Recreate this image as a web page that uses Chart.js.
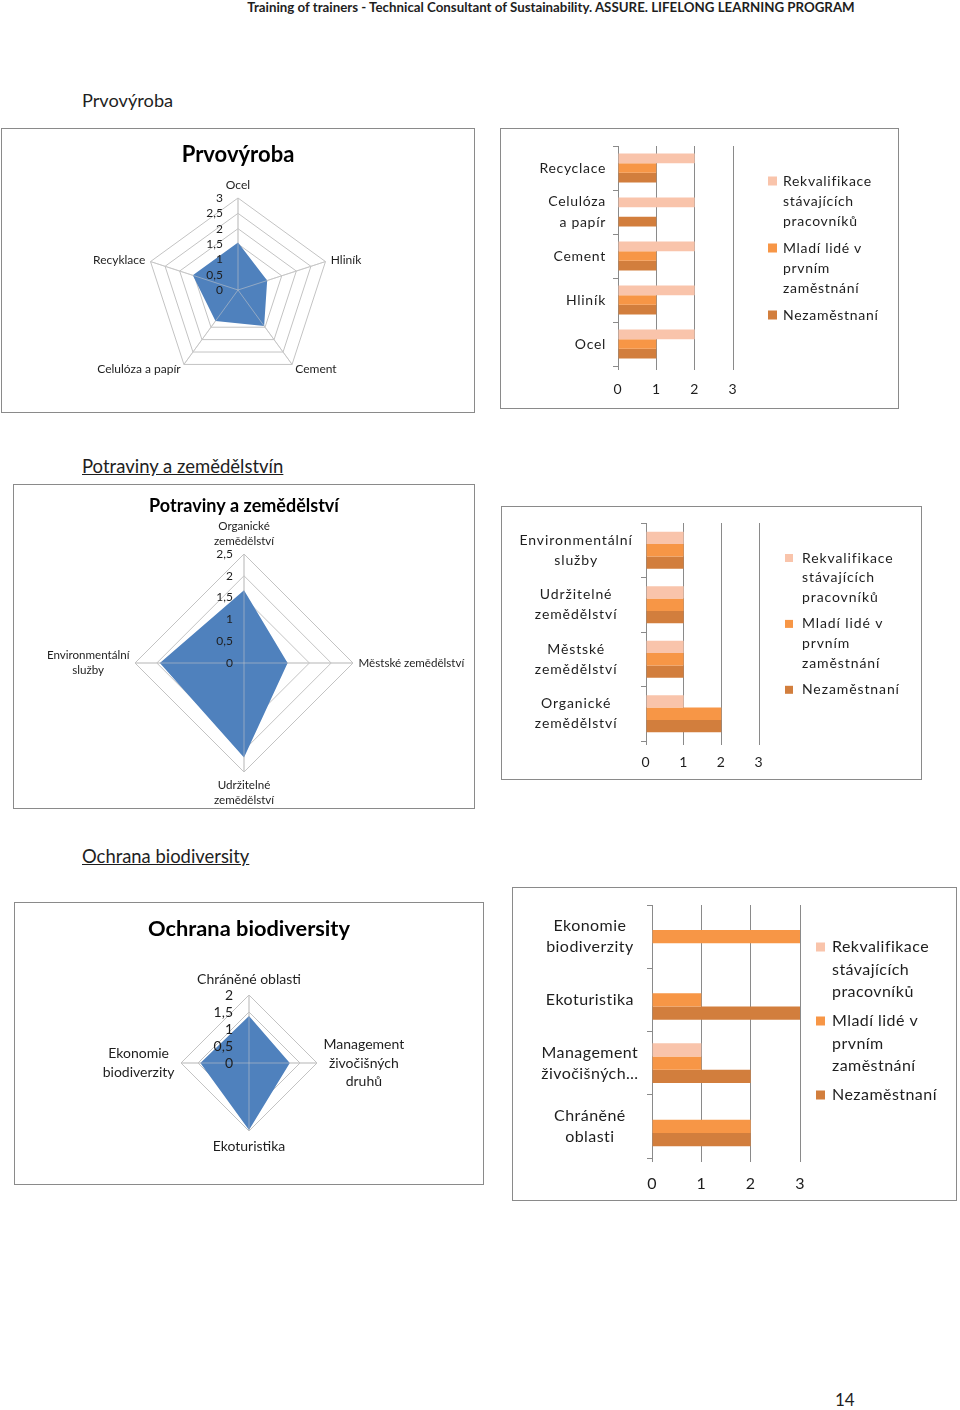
<!DOCTYPE html>
<html><head><meta charset="utf-8">
<script src="https://cdn.jsdelivr.net/npm/chart.js@4.4.1/dist/chart.umd.min.js"></script>
<style>
html,body{margin:0;padding:0;background:#fff;}
body{width:960px;height:1410px;position:relative;overflow:hidden;font-family:Lato,"Open Sans",sans-serif;color:#1e1e1e;}
.t{position:absolute;white-space:nowrap;}
.frame{position:absolute;border:1px solid #8a8a8a;box-sizing:border-box;pointer-events:none;}
canvas{position:absolute;}
</style></head><body>
<div class="t" style="left:0;width:1102px;text-align:center;top:0;line-height:15px;font-size:13.3px;font-weight:bold;">Training of trainers - Technical Consultant of Sustainability. ASSURE. LIFELONG LEARNING PROGRAM</div>
<div class="t" style="left:82px;top:89px;line-height:22px;font-size:18.2px;">Prvovýroba</div>
<div class="t" style="left:82px;top:455px;line-height:22px;font-size:18.5px;text-decoration:underline;">Potraviny a zemědělstvín</div>
<div class="t" style="left:82px;top:845px;line-height:22px;font-size:18.4px;text-decoration:underline;">Ochrana biodiversity</div>
<div class="t" style="left:835px;top:1389px;line-height:22px;font-size:17px;">14</div>

<canvas id="r1"></canvas><div class="frame" id="f_r1"></div>
<canvas id="b1"></canvas><div class="frame" id="f_b1"></div>
<canvas id="r2"></canvas><div class="frame" id="f_r2"></div>
<canvas id="b2"></canvas><div class="frame" id="f_b2"></div>
<canvas id="r3"></canvas><div class="frame" id="f_r3"></div>
<canvas id="b3"></canvas><div class="frame" id="f_b3"></div>

<script>
// ---------------- DATA ----------------
const seriesNames = ['Rekvalifikace stávajících pracovníků', 'Mladí lidé v prvním zaměstnání', 'Nezaměstnaní'];

// Prvovýroba
const prvRadarCategories = ['Ocel', 'Hliník', 'Cement', 'Celulóza a papír', 'Recyklace'];
const prvRadarValues = [1.55, 1.0, 1.45, 1.25, 1.55];
const prvRadarTickLabels = ['0', '0,5', '1', '1,5', '2', '2,5', '3'];
const prvBarCategories = ['Recyclace', 'Celulóza\na papír', 'Cement', 'Hliník', 'Ocel'];
const prvRekvalifikace = [2, 2, 2, 2, 2];
const prvMladi = [1, 0, 1, 1, 1];
const prvNezamestnani = [1, 1, 1, 1, 1];

// Potraviny a zemědělství
const potRadarCategories = ['Organické\nzemědělství', 'Městské zemědělství', 'Udržitelné\nzemědělství', 'Environmentální\nslužby'];
const potRadarValues = [1.67, 1.0, 2.17, 1.93];
const potRadarTickLabels = ['0', '0,5', '1', '1,5', '2', '2,5'];
const potBarCategories = ['Environmentální\nslužby', 'Udržitelné\nzemědělství', 'Městské\nzemědělství', 'Organické\nzemědělství'];
const potRekvalifikace = [1, 1, 1, 1];
const potMladi = [1, 1, 1, 2];
const potNezamestnani = [1, 1, 1, 2];

// Ochrana biodiversity
const ochRadarCategories = ['Chráněné oblasti', 'Management\nživočišných\ndruhů', 'Ekoturistika', 'Ekonomie\nbiodiverzity'];
const ochRadarValues = [1.38, 1.2, 1.97, 1.43];
const ochRadarTickLabels = ['0', '0,5', '1', '1,5', '2'];
const ochBarCategories = ['Ekonomie\nbiodiverzity', 'Ekoturistika', 'Management\nživočišných…', 'Chráněné\noblasti'];
const ochRekvalifikace = [0, 0, 1, 0];
const ochMladi = [3, 1, 1, 2];
const ochNezamestnani = [0, 3, 2, 2];

const barTickLabels = ['0', '1', '2', '3'];

// ---------------- STYLE ----------------
const FONT = 'Lato, "Open Sans", sans-serif';
const TXT = '#1e1e1e';
const SERIES_COLORS = ['#F9C4AB', '#F79646', '#D27E3D'];
const RADAR_FILL = '#4F81BD';
const split = s => s.split('\n');
const num = s => parseFloat(s.replace(',', '.'));

function place(id, box) {
  const c = document.getElementById(id);
  c.width = box.w; c.height = box.h;
  c.style.left = box.x + 'px'; c.style.top = box.y + 'px';
  c.style.width = box.w + 'px'; c.style.height = box.h + 'px';
  const f = document.getElementById('f_' + id);
  f.style.left = box.x + 'px'; f.style.top = box.y + 'px';
  f.style.width = box.w + 'px'; f.style.height = box.h + 'px';
  return c;
}

// Radar labels plugin (point labels, tick labels, axis lines over the fill)
const radarLabels = {
  id: 'radarLabels',
  afterDatasetsDraw(chart, args, o) {
    const s = chart.scales.r, ctx = chart.ctx;
    ctx.save();
    const n = chart.data.labels.length;
    ctx.strokeStyle = 'rgba(200,200,200,0.55)'; ctx.lineWidth = 1;
    for (let i = 0; i < n; i++) {
      const p = s.getPointPosition(i, s.drawingArea);
      ctx.beginPath(); ctx.moveTo(s.xCenter, s.yCenter); ctx.lineTo(p.x, p.y); ctx.stroke();
    }
    ctx.fillStyle = TXT;
    ctx.font = o.tickSize + 'px ' + FONT;
    ctx.textAlign = 'right'; ctx.textBaseline = 'middle';
    s.ticks.forEach(t => {
      const y = s.yCenter - s.getDistanceFromCenterForValue(t.value);
      ctx.fillText(t.label, s.xCenter - o.tickOffset, y);
    });
    ctx.font = o.labelSize + 'px ' + FONT;
    const lh = o.labelSize * o.lineHeight;
    chart.data.labels.forEach((lab, i) => {
      const lines = Array.isArray(lab) ? lab : [lab];
      const p = s.getPointPosition(i, s.drawingArea + o.gap);
      const c = Math.cos(p.angle), sn = Math.sin(p.angle);
      const w = Math.max(...lines.map(l => ctx.measureText(l).width));
      let cx = p.x;
      if (Math.abs(c) >= 0.1) cx = c > 0 ? p.x + w / 2 : p.x - w / 2;
      const h = lines.length * lh;
      let top = p.y - h / 2;
      if (sn < -0.9) top = p.y - h; else if (sn > 0.9) top = p.y;
      ctx.textAlign = 'center'; ctx.textBaseline = 'middle';
      lines.forEach((l, k) => ctx.fillText(l, cx, top + lh * (k + 0.5)));
    });
    ctx.restore();
  }
};

function radar(id, box, cfg) {
  const c = place(id, box);
  const titleLH = cfg.titleSize * 1.2;
  const padTop = cfg.titleY - titleLH / 2;
  const areaTop = cfg.cy - cfg.R;
  const padBottom = areaTop - padTop - titleLH;
  const layoutBottom = box.h - areaTop - 2 * cfg.R;
  const tl = cfg.tickLabels;
  return new Chart(c, {
    type: 'radar',
    data: {
      labels: cfg.labels.map(split),
      datasets: [{ label: cfg.title, data: cfg.values, backgroundColor: RADAR_FILL, borderColor: RADAR_FILL, borderWidth: 0, fill: true, pointRadius: 0 }]
    },
    options: {
      responsive: false, animation: false, devicePixelRatio: 1,
      layout: { padding: { left: 0, right: 0, top: 0, bottom: layoutBottom } },
      plugins: {
        legend: { display: false }, tooltip: { enabled: false },
        title: { display: true, text: cfg.title, color: '#000', font: { family: FONT, size: cfg.titleSize, weight: 'bold', lineHeight: 1.2 }, padding: { top: padTop, bottom: padBottom } },
        radarLabels: { tickSize: cfg.tickSize, tickOffset: cfg.tickOffset, labelSize: cfg.labelSize, lineHeight: cfg.labelLH, gap: cfg.gap }
      },
      scales: {
        r: {
          min: num(tl[0]), max: num(tl[tl.length - 1]),
          ticks: { display: false, stepSize: num(tl[1]) - num(tl[0]), callback: (v, i) => tl[i] },
          pointLabels: { display: false },
          grid: { color: '#C3C3C3', lineWidth: 1 },
          angleLines: { color: '#C3C3C3', lineWidth: 1 }
        }
      },
      elements: { line: { tension: 0, borderWidth: 0 }, point: { radius: 0 } }
    },
    plugins: [radarLabels]
  });
}

// Letter spacing for all text of a chart (the reference bar charts use spaced text)
const spacing = {
  id: 'spacing',
  beforeDraw(chart, args, o) { chart.ctx.letterSpacing = o.px + 'px'; }
};

// Side legend plugin for bar charts
const sideLegend = {
  id: 'sideLegend',
  afterDraw(chart, args, o) {
    const ctx = chart.ctx;
    ctx.save();
    ctx.font = o.size + 'px ' + FONT;
    ctx.textAlign = 'left'; ctx.textBaseline = 'middle';
    let y = o.y;
    chart.data.datasets.forEach(ds => {
      const words = ds.label.split(' ');
      const lines = []; let cur = '';
      words.forEach(wd => {
        const test = cur ? cur + ' ' + wd : wd;
        if (cur && ctx.measureText(test).width > o.maxWidth) { lines.push(cur); cur = wd; } else cur = test;
      });
      if (cur) lines.push(cur);
      ctx.fillStyle = ds.backgroundColor;
      ctx.fillRect(o.x, y - o.box / 2, o.box, o.box);
      ctx.fillStyle = TXT;
      lines.forEach((l, k) => ctx.fillText(l, o.textX, y + k * o.lh));
      y += lines.length * o.lh + o.gap;
    });
    ctx.restore();
  }
};

function bar(id, box, cfg) {
  const c = place(id, box);
  const yW = cfg.plot.l - box.x;
  const padTop = cfg.plot.t - box.y;
  const padRight = box.x + box.w - cfg.plot.r;
  const padBottom = box.y + box.h - cfg.plot.b - cfg.xH;
  const series = cfg.series;
  return new Chart(c, {
    type: 'bar',
    data: {
      labels: cfg.categories.map(split),
      datasets: series.map((d, i) => ({
        label: seriesNames[i], data: d, backgroundColor: SERIES_COLORS[i], borderWidth: 0,
        barPercentage: 1, categoryPercentage: cfg.catPct
      }))
    },
    options: {
      indexAxis: 'y', responsive: false, animation: false, devicePixelRatio: 1,
      layout: { padding: { left: 0, top: padTop, right: padRight, bottom: padBottom } },
      plugins: {
        legend: { display: false }, tooltip: { enabled: false }, title: { display: false },
        sideLegend: cfg.legend,
        spacing: { px: cfg.letterSpacing }
      },
      scales: {
        x: {
          min: num(barTickLabels[0]), max: num(barTickLabels[barTickLabels.length - 1]),
          ticks: { stepSize: 1, callback: (v, i) => barTickLabels[i], color: TXT, font: { family: FONT, size: cfg.xFont }, padding: cfg.xPad, maxRotation: 0 },
          grid: { color: '#8a8a8a', lineWidth: 1, drawTicks: true, tickLength: 4, tickColor: '#8a8a8a' },
          border: { display: false },
          afterFit: s => { s.height = cfg.xH; s.paddingLeft = 0; s.paddingRight = 0; }
        },
        y: {
          ticks: { color: TXT, font: { family: FONT, size: cfg.yFont, lineHeight: cfg.yLH }, padding: cfg.yPad, crossAlign: cfg.crossAlign, autoSkip: false },
          grid: { display: true, drawOnChartArea: false, drawTicks: true, tickLength: 5, color: '#8a8a8a', tickColor: '#8a8a8a', offset: true },
          border: { display: true, color: '#8a8a8a', width: 1 },
          afterFit: s => { s.width = yW; s.paddingTop = 0; s.paddingBottom = 0; }
        }
      }
    },
    plugins: [spacing, sideLegend]
  });
}

// ---------------- CHARTS ----------------
radar('r1', { x: 1, y: 128, w: 474, h: 285 }, {
  title: 'Prvovýroba', titleSize: 22, titleY: 27, cy: 162, R: 92,
  labels: prvRadarCategories, values: prvRadarValues, tickLabels: prvRadarTickLabels,
  tickSize: 12, tickOffset: 15, labelSize: 12, labelLH: 1.25, gap: 5.5
});
bar('b1', { x: 500, y: 128, w: 399, h: 281 }, {
  plot: { l: 618, t: 146, r: 733, b: 366 }, xH: 30, xFont: 14, xPad: 11, catPct: 0.66,
  categories: prvBarCategories, series: [prvRekvalifikace, prvMladi, prvNezamestnani],
  yFont: 14, yLH: 1.55, yPad: 7, crossAlign: 'near', letterSpacing: 0.7,
  legend: { x: 268, box: 9, textX: 283, y: 53, lh: 20, gap: 7, size: 14, maxWidth: 95 }
});
radar('r2', { x: 13, y: 484, w: 462, h: 325 }, {
  title: 'Potraviny a zemědělství', titleSize: 18, titleY: 22, cy: 179, R: 109,
  labels: potRadarCategories, values: potRadarValues, tickLabels: potRadarTickLabels,
  tickSize: 12, tickOffset: 11, labelSize: 11.6, labelLH: 1.3, gap: 5.5
});
bar('b2', { x: 501, y: 506, w: 421, h: 274 }, {
  plot: { l: 646, t: 523, r: 759, b: 741 }, xH: 28, xFont: 14, xPad: 9, catPct: 0.68,
  categories: potBarCategories, series: [potRekvalifikace, potMladi, potNezamestnani],
  yFont: 14, yLH: 1.42, yPad: 15, crossAlign: 'center', letterSpacing: 0.9,
  legend: { x: 284, box: 8, textX: 301, y: 52, lh: 19.8, gap: 6.5, size: 14, maxWidth: 95 }
});
radar('r3', { x: 14, y: 902, w: 470, h: 283 }, {
  title: 'Ochrana biodiversity', titleSize: 21.8, titleY: 27, cy: 161, R: 68,
  labels: ochRadarCategories, values: ochRadarValues, tickLabels: ochRadarTickLabels,
  tickSize: 14, tickOffset: 16, labelSize: 14, labelLH: 1.32, gap: 6.5
});
bar('b3', { x: 512, y: 887, w: 445, h: 314 }, {
  plot: { l: 652, t: 905, r: 800, b: 1158 }, xH: 32, xFont: 16, xPad: 12, catPct: 0.63,
  categories: ochBarCategories, series: [ochRekvalifikace, ochMladi, ochNezamestnani],
  yFont: 16, yLH: 1.32, yPad: 11, crossAlign: 'center', letterSpacing: 0.45,
  legend: { x: 304, box: 9, textX: 320, y: 60, lh: 22.5, gap: 6.5, size: 16, maxWidth: 108 }
});
</script>
</body></html>
